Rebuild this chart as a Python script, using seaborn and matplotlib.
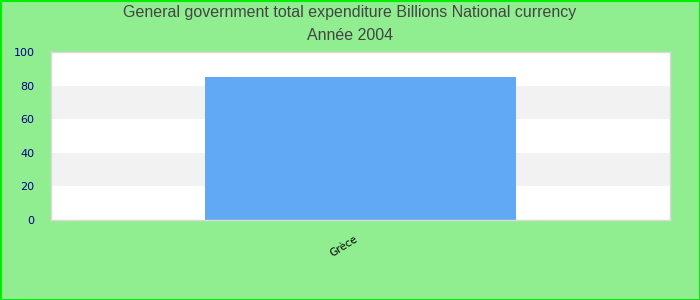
import matplotlib
matplotlib.use("Agg")
import matplotlib.pyplot as plt
import seaborn as sns
import pandas as pd
from matplotlib.transforms import ScaledTranslation

categories = ["Grèce"]
values = [85.0]
yticks = [0, 20, 40, 60, 80, 100]

sns.set_theme(style="white")
plt.rcParams['font.family'] = ['DejaVu Sans']

fig = plt.figure(figsize=(7, 3), dpi=100, facecolor="#90EE90")
ax = fig.add_axes([51/700, 80/300, 619/700, 168/300])
ax.set_facecolor("white")

for lo in (20, 60):
    ax.axhspan(lo, lo + 20, color="#f2f2f2", zorder=0, lw=0)

df = pd.DataFrame({"cat": categories, "val": values})
sns.barplot(data=df, x="cat", y="val", color="#62a9f5", saturation=1, width=0.502,
            linewidth=0, ax=ax, zorder=2)

ax.set_xlim(-0.5, 0.5)
ax.set_ylim(0, 100)
ax.set_yticks(yticks)
ax.set_yticklabels([str(t) for t in yticks], color="#00008b", fontsize=8)
ax.tick_params(axis="y", length=0, pad=12)
ax.tick_params(axis="x", length=0, pad=10)
for lbl in ax.get_xticklabels():
    lbl.set_rotation(32)
    lbl.set_fontsize(7.5)
    lbl.set_color("black")
    lbl.set_ha("right")
    lbl.set_rotation_mode("anchor")
    lbl.set_transform(lbl.get_transform() + ScaledTranslation(-6/100, 0, fig.dpi_scale_trans))
ax.set_xlabel("")
ax.set_ylabel("")
for s in ax.spines.values():
    s.set_color("#d9d9d9")
    s.set_linewidth(1)

fig.text(0.5, 1 - 13/300, "General government total expenditure Billions National currency",
         ha="center", va="center", fontsize=11.5, color="#444444", family=["Liberation Sans", "DejaVu Sans"])
fig.text(0.5, 1 - 36/300, "Année 2004", ha="center", va="center", fontsize=11.5, color="#444444",
         family=["Liberation Sans", "DejaVu Sans"])

border = plt.Rectangle((0.5/700, 0.5/300), 699/700, 299/300, transform=fig.transFigure,
                       fill=False, edgecolor="#00ee00", lw=1.5)
fig.patches.append(border)

fig.savefig("out.png", dpi=100, facecolor=fig.get_facecolor())
